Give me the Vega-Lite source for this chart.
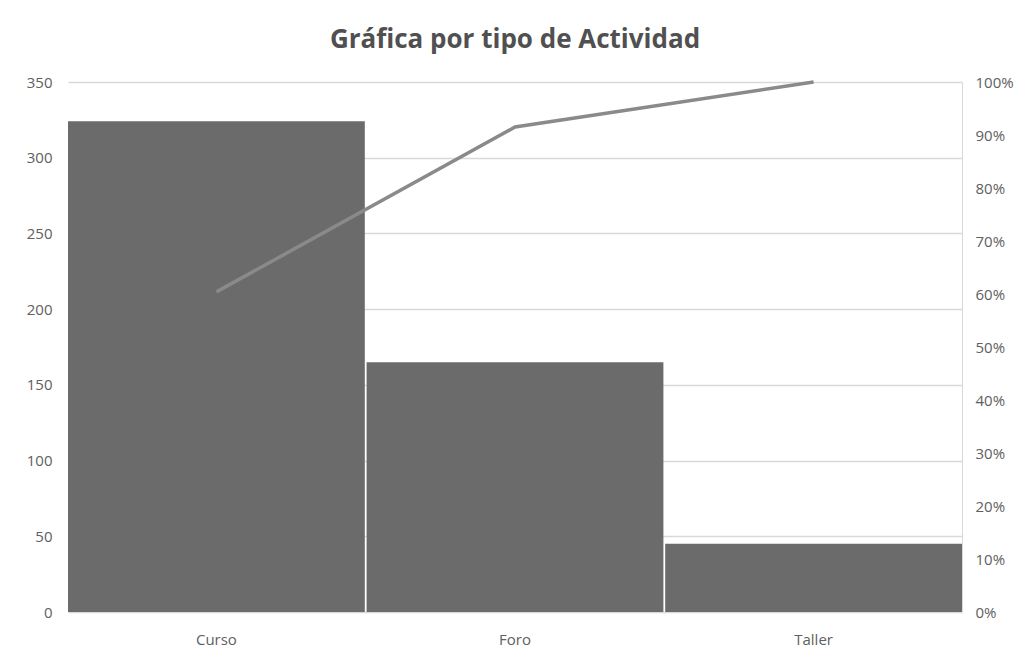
{
  "$schema": "https://vega.github.io/schema/vega-lite/v6.json",
  "width": 894,
  "height": 530,
  "autosize": {"type": "none"},
  "padding": {"left": 68, "top": 82, "right": 62, "bottom": 42},
  "background": "white",
  "title": {
    "text": "Gráfica por tipo de Actividad",
    "fontSize": 26,
    "fontWeight": "bold",
    "font": "Open Sans",
    "color": "#505050",
    "anchor": "middle",
    "offset": 22
  },
  "config": {
    "view": {"stroke": null},
    "axis": {"labelFont": "Open Sans", "labelColor": "#606060", "labelFontSize": 15, "ticks": false, "title": null, "labelOverlap": false}
  },
  "data": {
    "values": [
      {"tipo": "Curso", "cantidad": 324, "acumulado": 0.604},
      {"tipo": "Foro", "cantidad": 165, "acumulado": 0.915},
      {"tipo": "Taller", "cantidad": 45, "acumulado": 1.0}
    ]
  },
  "layer": [
    {
      "mark": {"type": "bar", "color": "#6b6b6b"},
      "encoding": {
        "x": {
          "field": "tipo",
          "type": "nominal",
          "sort": null,
          "scale": {"paddingInner": 0.006, "paddingOuter": 0},
          "axis": {"labelAngle": 0, "labelPadding": 20, "domain": false, "grid": false}
        },
        "y": {
          "field": "cantidad",
          "type": "quantitative",
          "scale": {"domain": [0, 350], "nice": false},
          "axis": {"values": [0, 50, 100, 150, 200, 250, 300, 350], "labelPadding": 16, "domain": false, "grid": true, "gridColor": "#d9d9d9", "gridWidth": 1.5}
        }
      }
    },
    {
      "mark": {"type": "line", "color": "#8a8a8a", "strokeWidth": 3.5},
      "encoding": {
        "x": {"field": "tipo", "type": "nominal", "sort": null},
        "y": {
          "field": "acumulado",
          "type": "quantitative",
          "scale": {"domain": [0, 1], "nice": false},
          "axis": {"orient": "right", "format": ".0%", "values": [0, 0.1, 0.2, 0.3, 0.4, 0.5, 0.6, 0.7, 0.8, 0.9, 1.0], "labelPadding": 13, "domain": true, "domainColor": "#d9d9d9", "grid": false}
        }
      }
    }
  ],
  "resolve": {"scale": {"y": "independent"}}
}
